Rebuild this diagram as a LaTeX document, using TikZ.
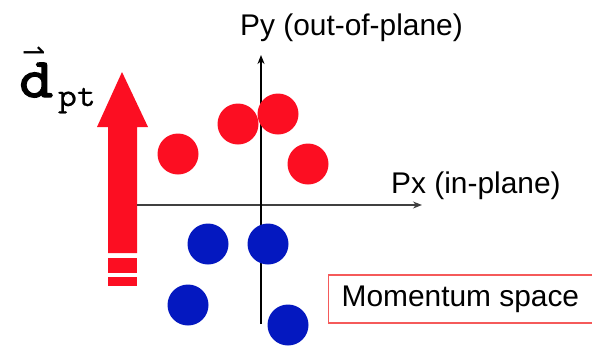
\documentclass[tikz,border=0pt]{standalone}
\usepackage{fontspec}
\setmainfont{Liberation Sans}
\newfontfamily\symfont{DejaVu Sans}
\newfontfamily\dfont[FakeBold=2.5,FakeStretch=1.15]{lmmono10-regular.otf}
\newfontfamily\subfont[FakeBold=0.5,FakeStretch=1.1]{lmmono10-regular.otf}
\usetikzlibrary{arrows.meta}
\definecolor{dotred}{RGB}{252,14,34}
\definecolor{dotblue}{RGB}{4,24,192}
\definecolor{boxred}{RGB}{245,90,90}

\begin{document}
\begin{tikzpicture}[x=1bp,y=-1bp,
  reddot/.style={circle,fill=dotred,inner sep=0pt,minimum size=41bp},
  bluedot/.style={circle,fill=dotblue,inner sep=0pt,minimum size=41bp},
  axis/.style={line width=1.6bp,-{Stealth[length=9bp,width=7bp]}},
  lbl/.style={font=\fontsize{30}{36}\selectfont,inner sep=0pt}]
  \useasboundingbox (0,0) rectangle (592,346);
  % the pt dipole arrow, broken off at its foot
  \fill[dotred] (108,253) -- (108,127) -- (97,127) -- (122,72) -- (148,127) -- (137,127) -- (137,253) -- cycle;
  \fill[dotred] (108,258) rectangle (137,273);
  \fill[dotred] (108,277) rectangle (137,286);
  \node[anchor=base west,inner sep=0pt] (dlabel) at (19,97)
    {\rlap{\raisebox{36bp}{\hspace{3bp}\fontsize{28}{28}\symfont ⇀}}{\fontsize{56}{56}\dfont d}\hspace{5bp}\raisebox{-9bp}{\fontsize{33}{33}\subfont pt}};
  % axes of momentum space
  \coordinate (xstart) at (137,205);
  \coordinate (xend) at (422,205);
  \coordinate (ystart) at (261,324);
  \coordinate (yend) at (261,55);
  \draw[axis,draw=black!75,line width=1.3bp] (xstart) -- (xend);
  \draw[axis] (ystart) -- (yend);
  \node[lbl,anchor=base west] (pylabel) at (240,35) {Py (out-of-plane)};
  \node[lbl,anchor=base west] (pxlabel) at (391,193) {Px (in-plane)};
  % protons above, neutrons below
  \node[reddot] (r1) at (178,154) {};
  \node[reddot] (r2) at (238,124) {};
  \node[reddot] (r3) at (278,114) {};
  \node[reddot] (r4) at (308,164) {};
  \node[bluedot] (b1) at (208,244) {};
  \node[bluedot] (b2) at (268,244) {};
  \node[bluedot] (b3) at (188,305) {};
  \node[bluedot] (b4) at (288,325) {};
  % the box runs off the right edge
  \node[lbl,draw=boxred,line width=1.2bp,anchor=west,inner xsep=13bp,minimum height=48bp] (space) at (328,299) {Momentum space\hspace{12bp}};
\end{tikzpicture}
\end{document}
